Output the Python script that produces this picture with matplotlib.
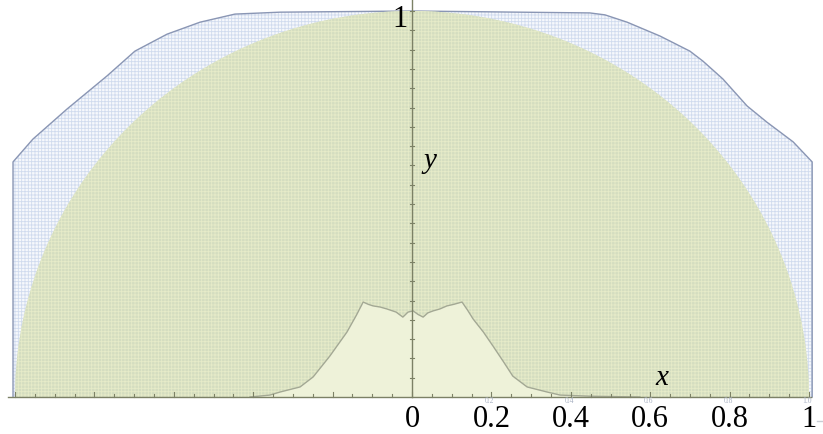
import numpy as np
import matplotlib.pyplot as plt

# Outer envelope (upper boundary), left to right
env_x = [-1.005, -1.005, -0.955, -0.869, -0.768, -0.698, -0.617, -0.534, -0.446, -0.332,
         0.0, 0.448, 0.486, 0.542, 0.625, 0.700, 0.733, 0.783, 0.844, 0.894, 0.960, 1.008, 1.008]
env_y = [0.0, 0.609, 0.668, 0.746, 0.832, 0.896, 0.940, 0.971, 0.992, 0.997,
         1.000, 0.995, 0.990, 0.971, 0.935, 0.896, 0.870, 0.824, 0.754, 0.712, 0.661, 0.609, 0.0]

# Central distribution
bump_x = [-0.408, -0.358, -0.332, -0.282, -0.249, -0.207, -0.164, -0.140, -0.123, -0.110,
          -0.098, -0.080, -0.063, -0.040, -0.023, -0.010, 0.003, 0.015, 0.028, 0.040,
          0.053, 0.070, 0.088, 0.105, 0.126, 0.140, 0.154, 0.180, 0.204, 0.230,
          0.254, 0.290, 0.340, 0.373, 0.450, 0.574]
bump_y = [0.0, 0.005, 0.013, 0.026, 0.052, 0.106, 0.168, 0.212, 0.246, 0.240,
          0.236, 0.233, 0.228, 0.220, 0.207, 0.220, 0.223, 0.214, 0.207, 0.218,
          0.223, 0.228, 0.236, 0.240, 0.246, 0.225, 0.202, 0.168, 0.132, 0.092,
          0.054, 0.026, 0.013, 0.005, 0.002, 0.0]

xtick_vals = [0.2, 0.4, 0.6, 0.8, 1.0]
xtick_text = ["0.2", "0.4", "0.6", "0.8", "1"]
small_text = ["0.2", "0.4", "0.6", "0.8", "1.0"]

plt.rcParams['hatch.linewidth'] = 0.6

fig = plt.figure(figsize=(8.23, 4.35), dpi=100)
ax = fig.add_axes([0, 0, 1, 1])
ax.set_xlim(-412 / 397, 411 / 397)
ax.set_ylim(-37 / 386, 398 / 386)
ax.axis("off")

# outer envelope
ax.fill(env_x, env_y, facecolor="#f6f8fc", edgecolor="none", zorder=1)
ax.fill(env_x, env_y, facecolor="none", edgecolor="#d0dbee", linewidth=0, hatch="+++++", zorder=1.1)
ax.plot(env_x, env_y, color="#8a96b4", linewidth=1.0, zorder=1.2)

# unit semicircle
t = np.linspace(0, np.pi, 400)
ax.fill(np.cos(t), np.sin(t), facecolor="#d4ddc0", edgecolor="none", zorder=2)
ax.fill(np.cos(t), np.sin(t), facecolor="none", edgecolor="#e6ebc8", linewidth=0, hatch="+++++", zorder=2.1)

# central distribution
ax.fill(bump_x, bump_y, facecolor="#eef2d9", edgecolor="none", zorder=3)
ax.plot(bump_x, bump_y, color="#a3a894", linewidth=1.0, zorder=3.1)

# axes
axis_col = "#7c8166"
ax.plot([-1.017, 1.005], [0, 0], color=axis_col, linewidth=1.0, zorder=4)
ax.plot([0, 0], [0, 1.031], color=axis_col, linewidth=1.0, zorder=4)
for xt in np.arange(-1.0, 1.001, 0.05):
    h = 0.012 if abs(round(xt / 0.2) * 0.2 - xt) < 1e-6 else 0.007
    ax.plot([xt, xt], [0, h], color=axis_col, linewidth=0.8, zorder=4)
for yt in np.arange(0.05, 1.001, 0.05):
    ax.plot([-0.006, 0.006], [yt, yt], color=axis_col, linewidth=0.8, zorder=4)

serif = "Liberation Serif"
ax.text(0, -0.075, "0", ha="center", va="baseline", fontsize=22, family=serif, zorder=5)
for v, s, s2 in zip(xtick_vals, xtick_text, small_text):
    ax.text(v, -0.075, s, ha="center", va="baseline", fontsize=22, family=serif, zorder=5)
    ax.text(v - 0.004, -0.008, s2, ha="center", va="center", fontsize=5.5, family=serif,
            color="#aab3c4", zorder=5)
ax.plot([1.02, 1.035], [-0.062, -0.062], color="#c8ccd4", linewidth=1.0, zorder=5)
ax.text(-0.03, 0.98, "1", ha="center", va="center", fontsize=22, family=serif, zorder=5)
ax.text(0.045, 0.613, "y", ha="center", va="center", fontsize=21, family=serif,
        style="italic", zorder=5)
ax.text(0.63, 0.052, "x", ha="center", va="center", fontsize=21, family=serif,
        style="italic", zorder=5)

fig.savefig("out.png", dpi=100)
